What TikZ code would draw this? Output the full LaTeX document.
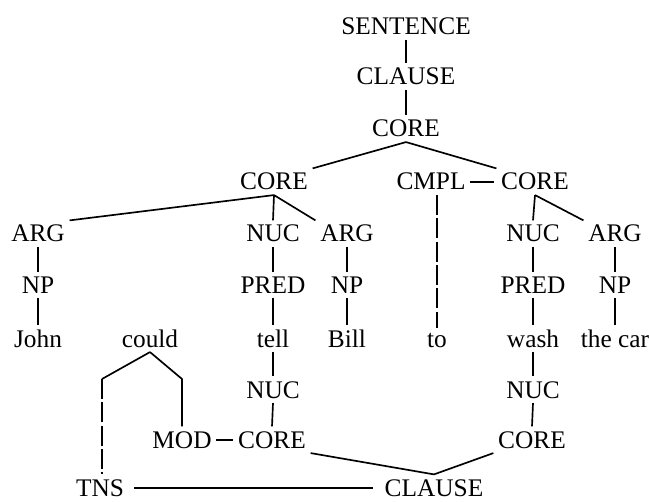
\documentclass[tikz,border=0pt]{standalone}
\usepackage{fontspec}
\setmainfont{Liberation Serif}
\usepackage{tikz}
\usetikzlibrary{positioning, calc}

\begin{document}
\begin{tikzpicture}[x=0.75pt, y=-0.75pt, line width=1.25pt,
    lbl/.style={inner sep=3pt, anchor=base, font=\fontsize{19}{22}\selectfont},
    dashline/.style={dash pattern=on 15pt off 2.5pt}]
      \useasboundingbox (0, 0) rectangle (649, 502);

      % upper tree
      \node[lbl] (sentence) at (406, 35) {SENTENCE};
      \node[lbl] (clause) at (406, 85) {CLAUSE};
      \node[lbl] (topcore) at (406, 137) {CORE};

      \node[lbl] (core1) at (274, 190) {CORE};
      \node[lbl] (cmpl) at (431, 190) {CMPL};
      \node[lbl] (core2) at (535, 190) {CORE};

      \node[lbl] (arg1) at (38, 242) {ARG};
      \node[lbl] (nuc1) at (273, 242) {NUC};
      \node[lbl] (arg2) at (347, 242) {ARG};
      \node[lbl] (nuc2) at (533, 242) {NUC};
      \node[lbl] (arg3) at (615, 242) {ARG};

      \node[lbl] (np1) at (38, 293) {NP};
      \node[lbl] (pred1) at (273, 293) {PRED};
      \node[lbl] (np2) at (347, 293) {NP};
      \node[lbl] (pred2) at (533, 293) {PRED};
      \node[lbl] (np3) at (615, 293) {NP};

      % words
      \node[lbl] (john) at (38, 347) {John};
      \node[lbl] (could) at (150, 347) {could};
      \node[lbl] (tell) at (273, 347) {tell};
      \node[lbl] (bill) at (347, 347) {Bill};
      \node[lbl] (to) at (437, 347) {to};
      \node[lbl] (wash) at (533, 347) {wash};
      \node[lbl] (thecar) at (615, 347) {the car};

      % lower tree
      \node[lbl] (nuc3) at (273, 398) {NUC};
      \node[lbl] (nuc4) at (533, 398) {NUC};
      \node[lbl] (mod) at (182, 448) {MOD};
      \node[lbl] (core3) at (272, 448) {CORE};
      \node[lbl] (core4) at (532, 448) {CORE};
      \node[lbl] (tns) at (100, 496) {TNS};
      \node[lbl] (clause2) at (434, 496) {CLAUSE};

      \coordinate (tnsbend) at (102, 379);
      \coordinate (modbend) at (182, 379);

      \draw (sentence.south) -- (clause.north);
      \draw (clause.south) -- (topcore.north);
      \draw (topcore.south) -- (core1.north east);
      \draw (topcore.south) -- (core2.north west);
      \draw[shorten >=2pt] (cmpl.east) -- (core2.west);

      \draw (core1.south) -- (arg1.north east);
      \draw (core1.south) -- (nuc1.north);
      \draw (core1.south) -- (arg2.north west);
      \draw (core2.south) -- (nuc2.north);
      \draw (core2.south) -- (arg3.north west);

      \draw (arg1.south) -- (np1.north);
      \draw (nuc1.south) -- (pred1.north);
      \draw (arg2.south) -- (np2.north);
      \draw (nuc2.south) -- (pred2.north);
      \draw (arg3.south) -- (np3.north);

      \draw (np1.south) -- (john.north);
      \draw (pred1.south) -- (tell.north);
      \draw (np2.south) -- (bill.north);
      \draw (pred2.south) -- (wash.north);
      \draw (np3.south) -- (thecar.north);
      \draw[dashline] (cmpl.south -| to.north) -- (to.north);

      \draw (tell.south) -- (nuc3.north);
      \draw (wash.south) -- (nuc4.north);
      \draw (nuc3.south) -- (core3.north);
      \draw (nuc4.south) -- (core4.north);

      \draw (could.south) -- (tnsbend);
      \draw[dashline] (tnsbend) -- (tnsbend |- tns.north);
      \draw (could.south) -- (modbend) -- (mod.north);
      \draw (mod.east) -- (core3.west);
      \draw (core3.south east) -- (clause2.north);
      \draw (core4.south west) -- (clause2.north);
      \draw[shorten <=4pt, shorten >=5pt] (tns.east) -- (clause2.west);

    \end{tikzpicture}
\end{document}
